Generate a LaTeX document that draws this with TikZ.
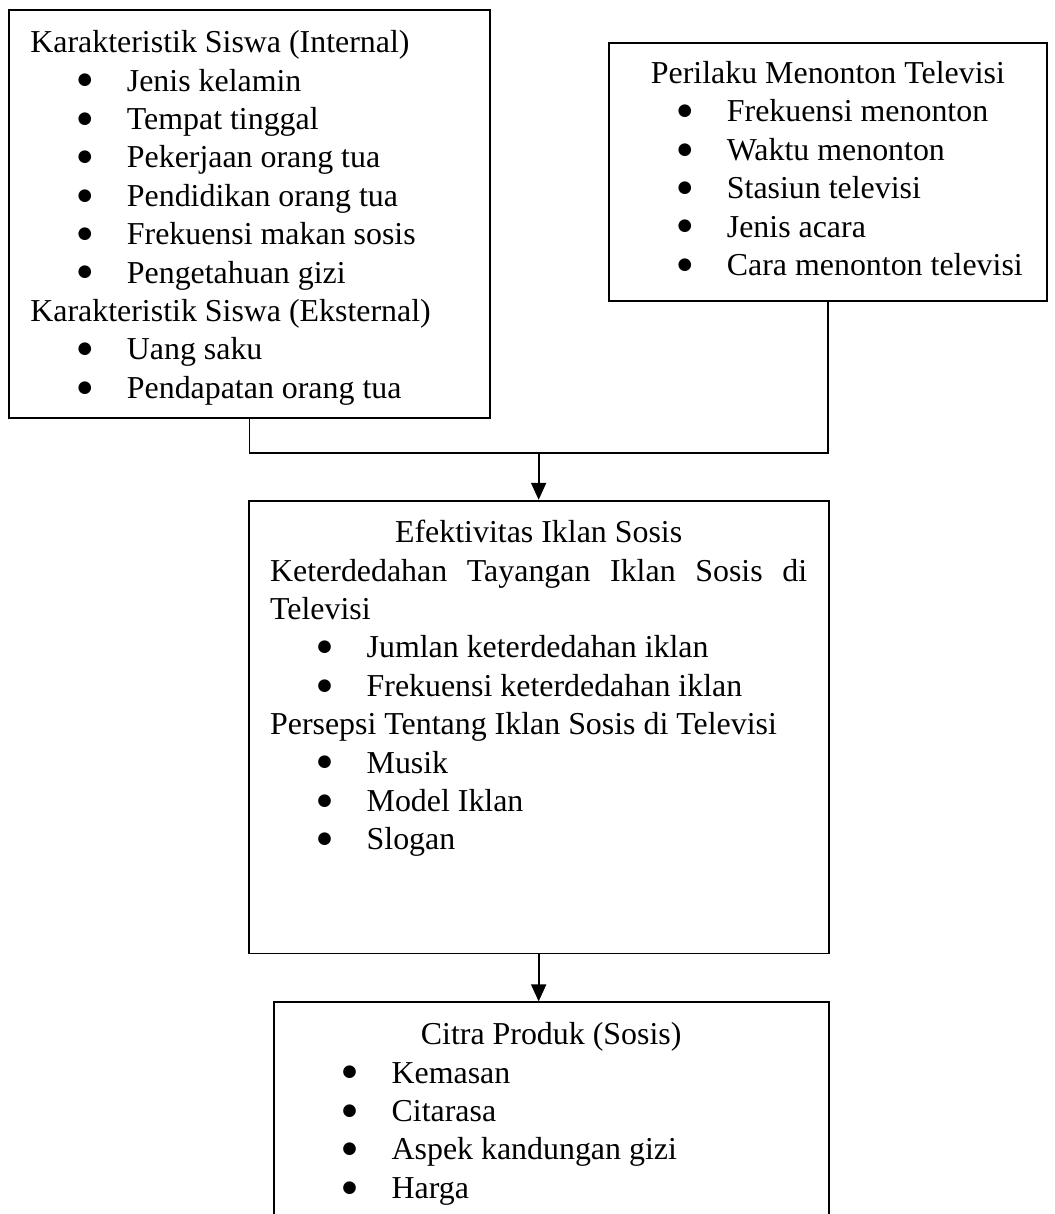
\documentclass[tikz,border=0pt]{standalone}
\usepackage{fontspec}
\setmainfont{Liberation Serif}
\newfontfamily\simbol{DejaVu Sans}
\usetikzlibrary{arrows.meta,positioning}
\setlength{\parindent}{0pt}
\newcommand{\butir}[1]{\hspace*{22.25pt}\makebox[10pt][c]{\raisebox{3.1pt}{\simbol\fontsize{8.3pt}{8.3pt}\selectfont ●}}\hspace*{16pt}\mbox{#1}}
\newcommand{\judul}[1]{\makebox[\hsize][c]{#1}}
\tikzset{
  kotak/.style={draw=black, line width=0.9pt, align=left, inner xsep=10.75pt, inner ysep=7pt,
    font=\fontsize{15.95pt}{19.2pt}\selectfont, execute at begin node={\spaceskip=0pt\xspaceskip=0pt}},
  garis/.style={draw=black, line width=0.9pt},
  panah/.style={-{Triangle[length=8.5pt,width=7.5pt]}, line width=0.9pt, draw=black}
}

\begin{document}
\begin{tikzpicture}[x=0.5pt, y=-0.5pt]
  \useasboundingbox (0,0) rectangle (1054,1214);
  \clip (0,0) rectangle (1054,1214);
  \node[kotak, text width=219pt, inner ysep=4pt, anchor=north west] (karakteristik) at (8,9) {\rule{0pt}{17.44pt}Karakteristik Siswa (Internal)\\
    \butir{Jenis kelamin}\\
    \butir{Tempat tinggal}\\
    \butir{Pekerjaan orang tua}\\
    \butir{Pendidikan orang tua}\\
    \butir{Frekuensi makan sosis}\\
    \butir{Pengetahuan gizi}\\
    Karakteristik Siswa (Eksternal)\\
    \butir{Uang saku}\\
    \butir{Pendapatan orang tua}\strut};
  \node[kotak, text width=197.5pt, inner ysep=6.9pt, anchor=north west] (perilaku) at (608,42) {\strut\judul{Perilaku Menonton Televisi}\\
    \butir{Frekuensi menonton}\\
    \butir{Waktu menonton}\\
    \butir{Stasiun televisi}\\
    \butir{Jenis acara}\\
    \butir{Cara menonton televisi}\strut};
  \draw[garis] (karakteristik.south) -- ++(0,34) coordinate (kiri) -| (perilaku.south);
  \coordinate (kanan) at (kiri -| perilaku.south);
  \path (kiri) -- coordinate (gabung) (kanan);
  \node[kotak, text width=268.5pt, inner ysep=7.6pt, below=23.5pt of gabung] (efektivitas) {\strut\judul{Efektivitas Iklan Sosis}\\
    \makebox[\hsize]{Keterdedahan\hfill Tayangan\hfill Iklan\hfill Sosis\hfill di}\\
    Televisi\\
    \butir{Jumlan keterdedahan iklan}\\
    \butir{Frekuensi keterdedahan iklan}\\
    Persepsi Tentang Iklan Sosis di Televisi\\
    \butir{Musik}\\
    \butir{Model Iklan}\\
    \butir{Slogan}\\
    \strut\\
    \strut};
  \node[kotak, text width=256pt, inner ysep=7.8pt, below right=23.5pt and 12.5pt of efektivitas.south west] (citra) {\strut\judul{Citra Produk (Sosis)}\\
    \butir{Kemasan}\\
    \butir{Citarasa}\\
    \butir{Aspek kandungan gizi}\\
    \butir{Harga}\strut};
  \draw[panah] (gabung) -- (efektivitas.north);
  \draw[panah] (efektivitas.south) -- (efektivitas.south |- citra.north);
\end{tikzpicture}
\end{document}
